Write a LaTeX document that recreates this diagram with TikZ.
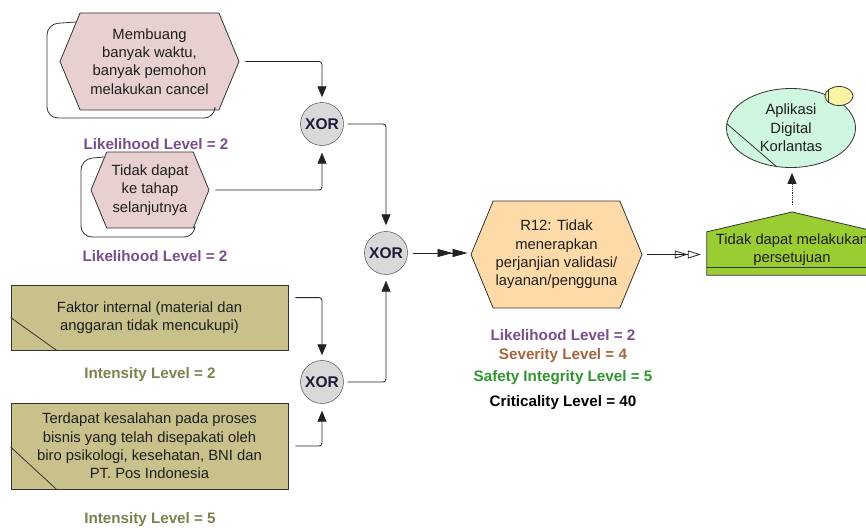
\documentclass[tikz,border=0pt]{standalone}
\usepackage{fontspec}
\setmainfont{Liberation Sans}
\usetikzlibrary{arrows.meta,shapes.geometric,shapes.symbols,calc,backgrounds}

\definecolor{pinkfill}{HTML}{E8D0D0}
\definecolor{peachfill}{HTML}{FDDAA8}
\definecolor{olivefill}{HTML}{C8C18B}
\definecolor{greenfill}{HTML}{9ACD32}
\definecolor{mintfill}{HTML}{CFF6DF}
\definecolor{yellowfill}{HTML}{F8F4A2}
\definecolor{gatefill}{HTML}{D9D9D9}
\definecolor{edgec}{HTML}{333333}
\definecolor{linec}{HTML}{222222}
\definecolor{txtc}{HTML}{1E1E1E}
\definecolor{navyc}{HTML}{1C1C3A}
\definecolor{likec}{HTML}{7A4E8C}
\definecolor{sevc}{HTML}{A8643C}
\definecolor{safec}{HTML}{2E962E}
\definecolor{intc}{HTML}{80804E}

\begin{document}
\begin{tikzpicture}[x=1pt,y=-1pt,
  body/.style={font=\fontsize{14.8}{18.3}\selectfont, align=center, text=txtc},
  lvl/.style={font=\bfseries\fontsize{15.2}{18}\selectfont},
  hexa/.style={shape=signal, signal to=east and west, signal pointer angle=135,
    draw=edgec, line width=0.8pt, inner sep=0pt, body},
  cause/.style={rectangle, draw=edgec, line width=0.8pt, fill=olivefill, inner sep=0pt, body},
  gate/.style={circle, draw=edgec, fill=gatefill, minimum size=43pt, inner sep=0pt,
    font=\bfseries\fontsize{15.5}{15.5}\selectfont, text=navyc},
  link/.style={draw=linec, line width=0.8pt, rounded corners=3pt},
  tip/.style={-{Triangle[length=11pt,width=9pt]}},
  loopline/.style={draw=edgec, line width=0.8pt, rounded corners=11pt}
]
\useasboundingbox (0,0) rectangle (866,527);
\clip (0,0) rectangle (866,527);

% consequences (hexagons)
\node[hexa, fill=pinkfill, minimum width=179pt, minimum height=97pt] (h1) at (149.5,61.5)
  {Membuang\\banyak waktu,\\banyak pemohon\\melakukan cancel};
\node[hexa, fill=pinkfill, minimum width=118pt, minimum height=76pt] (h2) at (150,190)
  {Tidak dapat\\ke tahap\\selanjutnya};
\node[hexa, fill=peachfill, minimum width=171pt, minimum height=107pt] (h3) at (556.5,254.5)
  {R12: Tidak\\menerapkan\\perjanjian validasi/\\layanan/pengguna};

% self loops on the consequences
\draw[loopline] (76,22) -- (47,24) -- (47,118) -- (215,118) -- (215,110);
\draw[loopline] (104,157) -- (81,159) -- (81,237) -- (195,237) -- (195,228);

% likelihood labels
\node[lvl, text=likec] (l1) at (156,144) {Likelihood Level = 2};
\node[lvl, text=likec] (l2) at (155,256) {Likelihood Level = 2};

% causes
\node[cause, minimum width=277pt, minimum height=65pt] (f1) at (149.5,317.5)
  {Faktor internal (material dan\\anggaran tidak mencukupi)};
\node[cause, minimum width=277pt, minimum height=86pt] (f2) at (149.5,446)
  {Terdapat kesalahan pada proses\\bisnis yang telah disepakati oleh\\biro psikologi, kesehatan, BNI dan\\PT. Pos Indonesia};
\draw[edgec, line width=0.8pt] (f1.west) -- ($(f1.south west)+(46,0)$);
\draw[edgec, line width=0.8pt] ($(f2.west)+(0,1)$) -- ($(f2.south west)+(46,0)$);
\node[lvl, text=intc] (i1) at (150,375) {Intensity Level = 2};
\node[lvl, text=intc] (i2) at (150,520) {Intensity Level = 5};

% gates
\node[gate] (x1) at (322,124) {XOR};
\node[gate] (x2) at (386,253) {XOR};
\node[gate] (x3) at (322,382) {XOR};

% risk levels
\node[lvl, text=likec] (r1) at (563,335) {Likelihood Level = 2};
\node[lvl, text=sevc] (r2) at (563,356) {Severity Level = 4};
\node[lvl, text=safec] (r3) at (563,378) {Safety Integrity Level = 5};
\node[lvl, text=black] (r4) at (563,403) {Criticality Level = 40};

% consequence box
\node[body, minimum width=170pt, minimum height=35pt, inner sep=0pt] (g) at (792,249.5)
  {Tidak dapat melakukan\\persetujuan};
\coordinate (gpeak) at (792,212);
\begin{scope}[on background layer]
  \draw[edgec, line width=0.8pt, fill=greenfill]
    (g.north west) -- (gpeak) -- (g.north east) -- ($(g.south east)+(0,8)$)
    -- ($(g.south west)+(0,8)$) -- cycle;
\end{scope}
\draw[edgec, line width=0.8pt] (g.south west) -- (g.south east);

% application
\node[ellipse, draw=edgec, line width=0.8pt, fill=mintfill, minimum width=129pt,
  minimum height=79pt, inner sep=0pt, body] (app) at (791,128)
  {Aplikasi\\Digital\\Korlantas};
\draw[edgec, line width=0.8pt] (app.176) -- (app.250);
\node[ellipse, draw=edgec, line width=0.8pt, fill=yellowfill, minimum width=28pt,
  minimum height=19pt, inner sep=0pt] (tag) at (839,96) {};
\draw[edgec, line width=0.8pt] (828,89.5) -- (828,102.5);

% connectors
\draw[link, tip, shorten <=6pt, shorten >=5pt] (h1.east) -| (x1.north);
\draw[link, tip, shorten <=6pt, shorten >=7pt] (h2.east) -| (x1.south);
\draw[link, tip, shorten <=4pt, shorten >=6pt] (x1.east) -| (x2.north);
\draw[link, tip, shorten <=7pt, shorten >=5pt] ($(f1.north east)+(0,13)$) -| (x3.north);
\draw[link, tip, shorten <=7pt, shorten >=7pt] (f2.east) -| (x3.south);
\draw[link, tip, shorten <=4pt, shorten >=6pt] (x3.east) -| (x2.south);
\draw[link, -{Triangle[length=15pt,width=8pt]Triangle[length=15pt,width=8pt]},
  shorten <=5pt, shorten >=3pt] (x2.east) -- (x2.east -| h3.west);
\draw[link, -{Triangle[open,length=13pt,width=8pt]Triangle[open,length=13pt,width=8pt]},
  shorten <=5pt, shorten >=6pt] (h3.east) -- (h3.east -| g.west);
\draw[link, densely dotted, tip, shorten <=7pt, shorten >=5pt]
  (gpeak) -- (gpeak |- app.south);
\end{tikzpicture}
\end{document}
